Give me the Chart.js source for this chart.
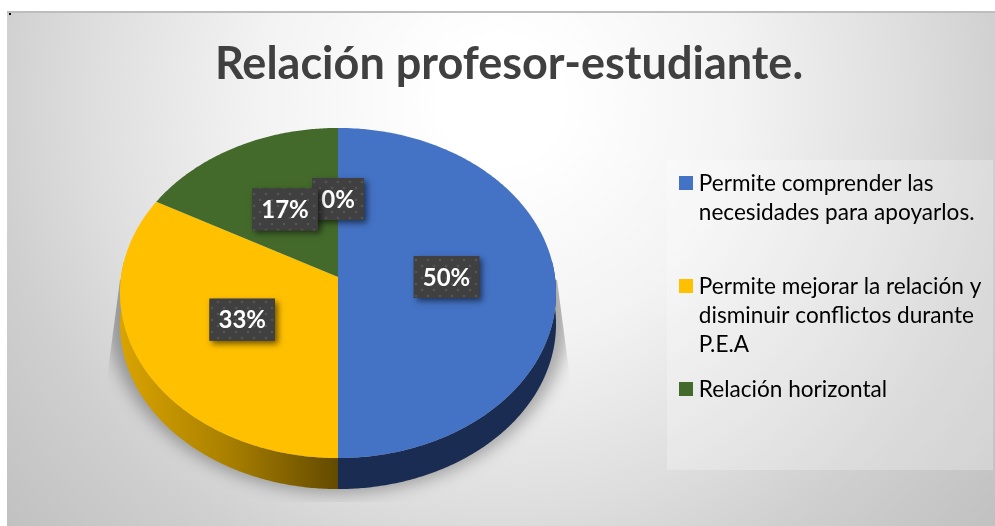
<!DOCTYPE html>
<html><head><meta charset="utf-8">
<style>html,body{margin:0;padding:0;background:#fff}canvas{display:block}</style>
<script src="https://cdn.jsdelivr.net/npm/chart.js@4"></script>
</head><body>
<div style="width:995px;height:526px"><canvas id="c" width="995" height="526"></canvas></div>
<script>
const titleText = "Relación profesor-estudiante.";
const categories = [
  ["Permite comprender las","necesidades para apoyarlos.",""],
  ["Permite mejorar la relación y","disminuir conflictos durante","P.E.A"],
  ["Relación horizontal"],
  [""]
];
const values = [50,33,17,0];
const percentLabels = ["50%","33%","17%","0%"];
const colors = ["#4472C4","#FFC000","#436A2B","#5B9BD5"];
const sideColors = ["#1A2C52","#8A6600","#27401A","#1A2C52"];

const FONT = 'Lato,"Open Sans",sans-serif';
// perspective view of the pie disc
const K = -0.097, YS = 0.7535, depth = 31;

function project(x0,y0,R,px,py){
  const d = 1 + K*(py-y0)/R;
  return {x:x0+(px-x0)/d, y:y0+(py-y0)*YS/d};
}
function rimPoints(el,s,e){
  const pts=[],n=Math.max(2,Math.ceil((e-s)/0.01));
  for(let i=0;i<=n;i++){
    const a=s+(e-s)*i/n;
    pts.push(project(el.x,el.y,el.outerRadius,el.x+el.outerRadius*Math.cos(a),el.y+el.outerRadius*Math.sin(a)));
  }
  return pts;
}
Chart.ArcElement.prototype.draw = function(ctx){
  if(this.endAngle-this.startAngle<=0) return;
  const pts=rimPoints(this,this.startAngle,this.endAngle);
  ctx.save();
  ctx.fillStyle=this.options.backgroundColor;
  ctx.beginPath();
  ctx.moveTo(this.x,this.y);
  pts.forEach(p=>ctx.lineTo(p.x,p.y));
  ctx.closePath();ctx.fill();
  ctx.restore();
};

function dotPattern(ctx){
  const t=document.createElement('canvas');t.width=t.height=12;
  const g=t.getContext('2d');g.fillStyle='#404040';g.fillRect(0,0,12,12);
  g.fillStyle='#555555';
  [[2,2],[8,8]].forEach(p=>{g.beginPath();g.arc(p[0],p[1],1.3,0,7);g.fill();});
  return ctx.createPattern(t,'repeat');
}
function swatch(color){
  const t=document.createElement('canvas');t.width=t.height=14;
  const g=t.getContext('2d');g.fillStyle=color;g.fillRect(0,0,14,14);
  return t;
}

const piePlugin = {
  id:'pie3d',
  afterLayout(chart){
    chart.chartArea = {left:121,top:60,right:555,bottom:494,width:434,height:434};
    const t=chart.titleBlock;
    t.left=23;t.right=995;t.width=972;t.top=37;t.bottom=100;
    const l=chart.legend;
    l.left=667.5;l.top=156;l.right=995;l.bottom=480;
  },
  beforeDraw(chart){
    const c=chart.ctx;
    c.save();
    c.fillStyle='#fff';c.fillRect(0,0,995,526);
    const g=c.createRadialGradient(500,100,60,500,100,660);
    g.addColorStop(0,'#ffffff');g.addColorStop(0.3,'#f3f3f3');g.addColorStop(0.58,'#dedede');g.addColorStop(0.75,'#cfcfcf');g.addColorStop(1,'#c0c0c0');
    c.fillStyle=g;c.fillRect(7,12,988,514);
    c.fillStyle='#bdbdbd';c.fillRect(7,11,988,2);
    c.fillStyle='#000';c.fillRect(9,13,2,2);
    c.fillStyle='rgba(255,255,255,0.25)';c.fillRect(667,160,326,310);
    c.restore();
  },
  beforeDatasetsDraw(chart){
    const c=chart.ctx,m=chart.getDatasetMeta(0),a=m.data[0];
    // cast shadow
    c.save();
    c.beginPath();
    c.moveTo(120,280);c.lineTo(107,378);c.lineTo(107,502);c.lineTo(570,502);c.lineTo(570,378);c.lineTo(557,280);
    c.closePath();c.clip();
    c.filter='blur(8px)';
    c.fillStyle='rgba(0,0,0,0.3)';
    c.beginPath();c.ellipse(a.x,310,232,183,0,0,Math.PI*2);c.fill();
    c.restore();
    // extruded rim
    m.data.forEach((el,i)=>{
      const s=Math.max(el.startAngle,-0.1),e=Math.min(el.endAngle,Math.PI+0.1);
      if(e<=s) return;
      const pts=rimPoints(el,s,e);
      c.save();
      let fill=sideColors[i];
      if(i===1){
        const lg=c.createLinearGradient(el.x-el.outerRadius,0,el.x,0);
        lg.addColorStop(0,'#D9A300');lg.addColorStop(0.5,'#A87F00');lg.addColorStop(1,'#634A00');
        fill=lg;
      }
      c.fillStyle=fill;
      c.beginPath();
      pts.forEach((p,j)=>j?c.lineTo(p.x,p.y):c.moveTo(p.x,p.y));
      for(let j=pts.length-1;j>=0;j--)c.lineTo(pts[j].x,pts[j].y+depth);
      c.closePath();c.fill();
      c.restore();
    });
  },
  afterDatasetsDraw(chart){
    const c=chart.ctx;
    const m=chart.getDatasetMeta(0);
    const pat=dotPattern(c);
    c.save();
    c.font='bold 24px '+FONT;
    c.textAlign='center';c.textBaseline='middle';
    for(let i=m.data.length-1;i>=0;i--){
      const el=m.data[i];
      const cp=el.getCenterPoint();
      const p=project(el.x,el.y,el.outerRadius,cp.x,cp.y);
      const w=c.measureText(percentLabels[i]).width+18, h=42;
      const x=p.x,y=p.y;
      c.save();
      c.shadowColor='rgba(0,0,0,0.55)';c.shadowBlur=6;c.shadowOffsetX=3;c.shadowOffsetY=3;
      c.fillStyle='#404040';c.fillRect(x-w/2,y-h/2,w,h);
      c.restore();
      c.fillStyle=pat;c.fillRect(x-w/2,y-h/2,w,h);
      c.fillStyle='#fff';c.fillText(percentLabels[i],x,y+1);
    }
    c.restore();
  }
};

new Chart(document.getElementById('c'),{
  type:'pie',
  data:{labels:categories,datasets:[{data:values,backgroundColor:colors,borderWidth:0}]},
  plugins:[piePlugin],
  options:{
    responsive:false,animation:false,
    layout:{padding:0},
    plugins:{
      tooltip:{enabled:false},
      title:{display:true,text:titleText,color:'#404040',align:'center',padding:0,
        font:{family:FONT,size:45,weight:'bold',lineHeight:1.2}},
      legend:{display:true,position:'right',align:'start',
        labels:{
          boxWidth:14,boxHeight:14,padding:16,color:'#484848',usePointStyle:true,pointStyleWidth:4,
          font:{family:FONT,size:22.6,lineHeight:29/22.6},
          generateLabels(chart){
            return categories.map((t,i)=>({text:t,fillStyle:colors[i],strokeStyle:colors[i],lineWidth:0,index:i,hidden:false,pointStyle:swatch(colors[i])}))
              .filter(it=>it.text.join('')!=='');
          }
        }}
    }
  }
});
</script>
</body></html>
